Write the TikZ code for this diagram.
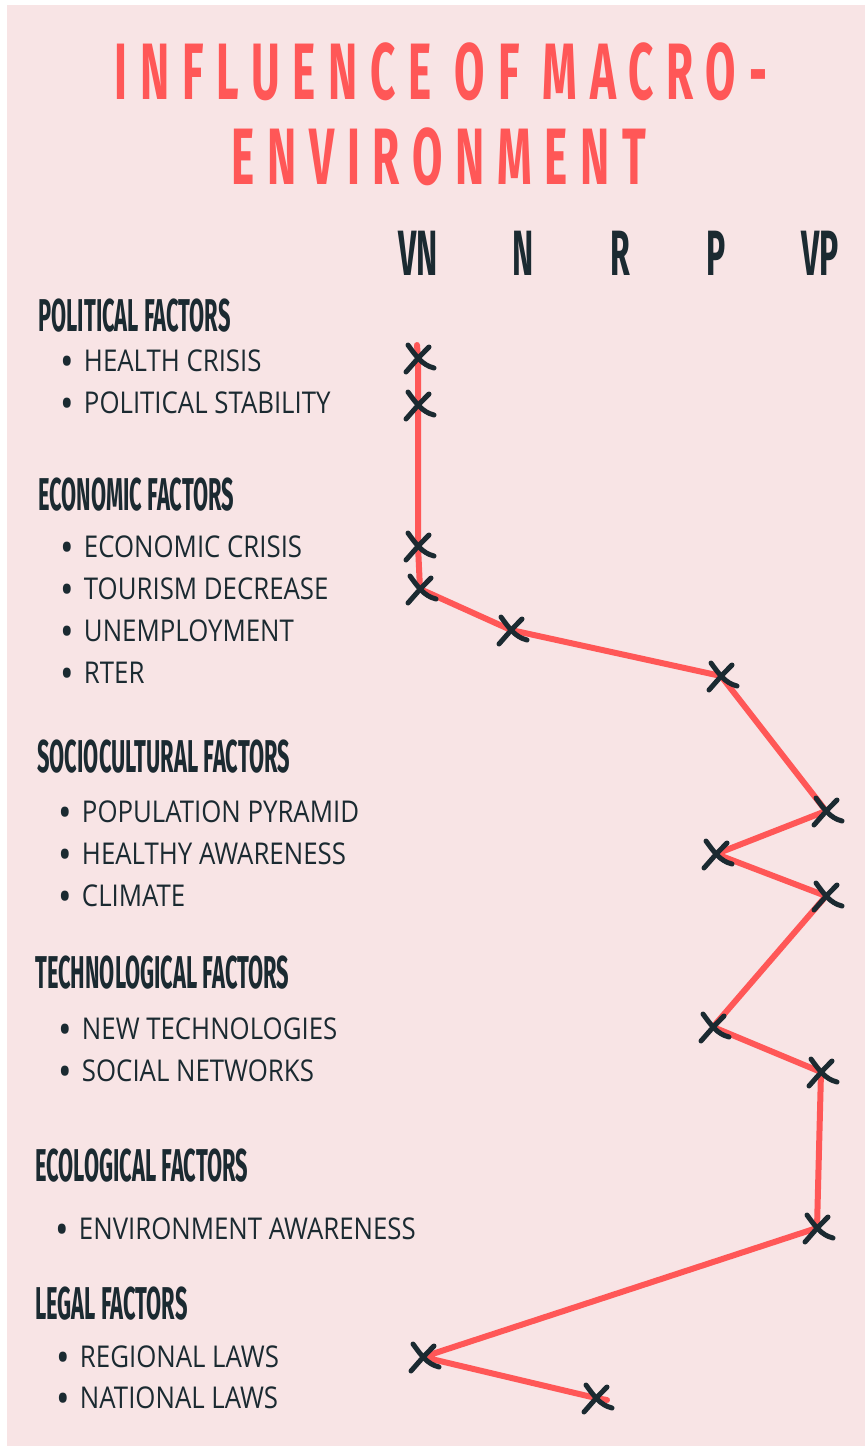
\documentclass[tikz,border=0pt]{standalone}
\usepackage{fontspec}
\setmainfont[FakeStretch=0.86]{Open Sans}
\newfontfamily\headfont[FakeStretch=0.5]{Fira Sans}
\newfontfamily\factorfont[FakeStretch=0.475]{Fira Sans}
\newfontfamily\titlefont[FakeStretch=0.55,LetterSpace=16]{Fira Sans}

\definecolor{bgpink}{HTML}{F8E4E5}
\definecolor{inkdark}{HTML}{1B2A31}
\definecolor{salmon}{HTML}{FF5757}

\newcommand{\bulletdot}{\smash{\raisebox{-2.6pt}{\fontsize{21}{18}\selectfont•}}\hspace{5pt}}

\tikzset{
  factor/.style={anchor=west,inner sep=0pt,text=inkdark,
    font=\factorfont\bfseries\fontsize{23}{25}\selectfont},
  item/.style={anchor=west,inner sep=0pt,text=inkdark,
    font=\fontsize{15}{18}\selectfont},
  scale label/.style={inner sep=0pt,text=inkdark,
    font=\headfont\bfseries\fontsize{32}{34}\selectfont},
  title/.style={inner sep=0pt,text=salmon,
    font=\titlefont\bfseries\fontsize{40}{42}\selectfont},
  markline/.style={inkdark,line width=2.5pt,line cap=round},
  redline/.style={salmon,line width=3pt,line join=round,line cap=round},
  xmark/.pic={
    \draw[markline] (-10,-13) .. controls (-2,-2) and (4,7) .. (16,10);
    \draw[markline] (11,-11) .. controls (2,-2) .. (-12,14);
  }
}

\begin{document}
\begin{tikzpicture}[x=0.5pt,y=-0.5pt]
\useasboundingbox (0,0) rectangle (865,1446);
\fill[bgpink] (7,5) rectangle (865,1446);
            % Title
\node[title] (t1) at (441,72) {INFLUENCE OF MACRO-};
\node[title] (t2) at (439,157) {ENVIRONMENT};
            % Scale
\node[scale label] (vn) at (418,253) {VN};
\node[scale label] (n)  at (523,253) {N};
\node[scale label] (r)  at (620,253) {R};
\node[scale label] (p)  at (716,253) {P};
\node[scale label] (vp) at (820,253) {VP};
            % Factors
\node[factor] (pol) at (38,316)  {POLITICAL FACTORS};
\node[factor] (eco) at (38,495)  {ECONOMIC FACTORS};
\node[factor] (soc) at (37,757)  {SOCIOCULTURAL FACTORS};
\node[factor] (tec) at (35,973)  {TECHNOLOGICAL FACTORS};
\node[factor] (ecl) at (35,1166) {ECOLOGICAL FACTORS};
\node[factor] (leg) at (35,1304) {LEGAL FACTORS};
            % Items
\node[item] (hc) at (60,361)  {\bulletdot HEALTH CRISIS};
\node[item] (ps) at (60,403)  {\bulletdot POLITICAL STABILITY};
\node[item] (ec) at (60,547)  {\bulletdot ECONOMIC CRISIS};
\node[item] (td) at (60,589)  {\bulletdot TOURISM DECREASE};
\node[item] (un) at (60,631)  {\bulletdot UNEMPLOYMENT};
\node[item] (rt) at (60,673)  {\bulletdot RTER};
\node[item] (pp) at (58,812)  {\bulletdot POPULATION PYRAMID};
\node[item] (ha) at (58,854)  {\bulletdot HEALTHY AWARENESS};
\node[item] (cl) at (58,896)  {\bulletdot CLIMATE};
\node[item] (nt) at (58,1029) {\bulletdot NEW TECHNOLOGIES};
\node[item] (sn) at (58,1071) {\bulletdot SOCIAL NETWORKS};
\node[item] (ea) at (55,1229) {\bulletdot ENVIRONMENT AWARENESS};
\node[item] (rl) at (56,1357) {\bulletdot REGIONAL LAWS};
\node[item] (nl) at (56,1398) {\bulletdot NATIONAL LAWS};
            % Ratings
\coordinate (head) at (417,345);
\coordinate (m1)  at (418,358);
\coordinate (m2)  at (418,405);
\coordinate (m3)  at (418,546);
\coordinate (m4)  at (420,589);
\coordinate (m5)  at (511,630);
\coordinate (m6)  at (721,676);
\coordinate (m7)  at (826,811);
\coordinate (m8)  at (716,854);
\coordinate (m9)  at (826,896);
\coordinate (m10) at (713,1027);
\coordinate (m11) at (821,1072);
\coordinate (m12) at (817,1228);
\coordinate (m13) at (423,1357);
\coordinate (m14) at (596,1398);
\coordinate (tail) at (607,1400);
\draw[redline] (head) -- (m1) -- (m2) -- (m3) -- (m4) -- (m5) -- (m6) -- (m7)
  -- (m8) -- (m9) -- (m10) -- (m11) -- (m12) -- (m13) -- (m14) -- (tail);
\foreach \m in {m1,m2,m3,m4,m5,m6,m7,m8,m9,m10,m11,m12,m13,m14}
  \pic at (\m) {xmark};

\end{tikzpicture}
\end{document}
